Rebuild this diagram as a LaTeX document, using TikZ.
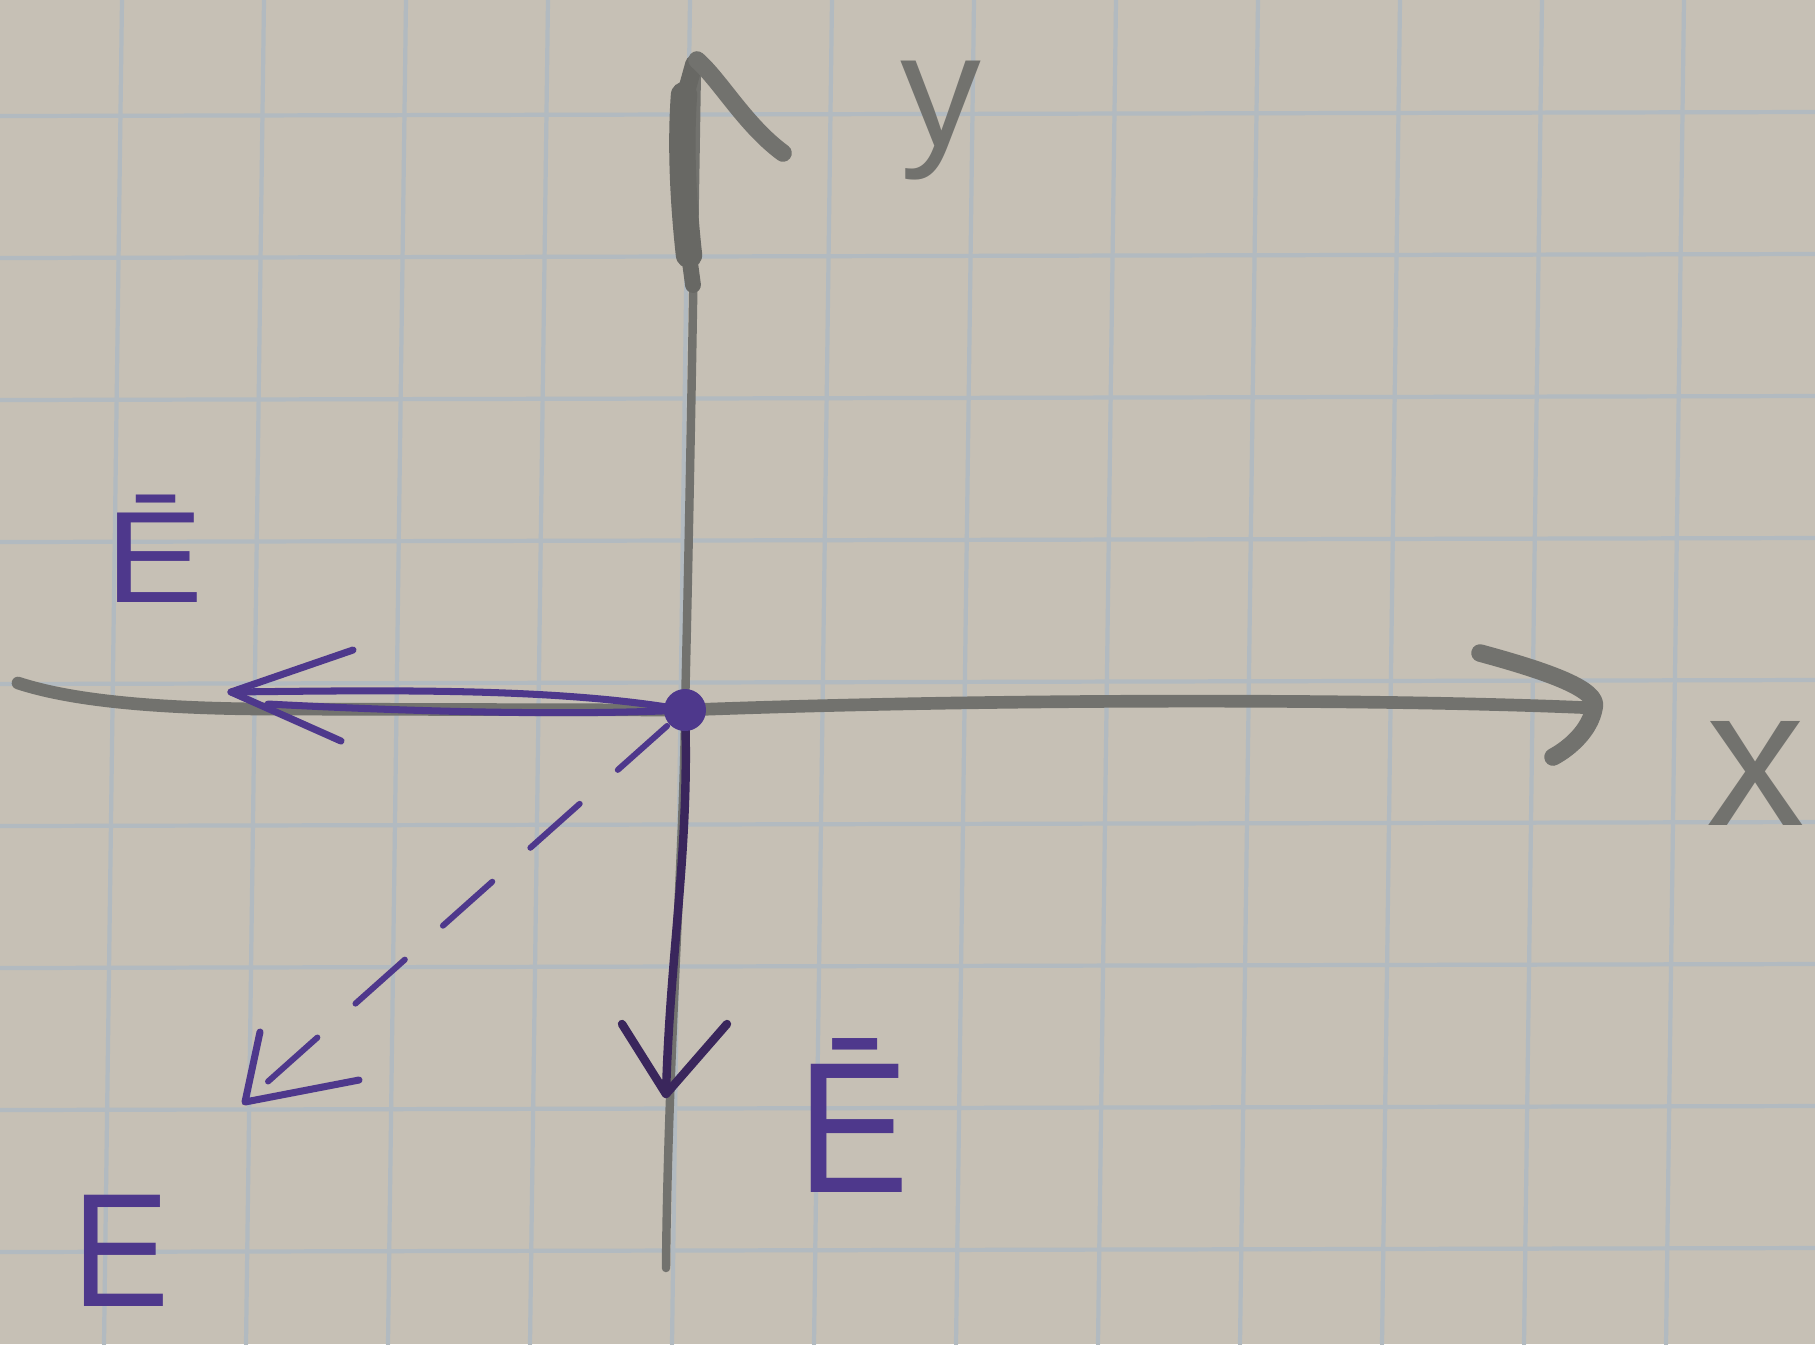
\documentclass[tikz,border=0pt]{standalone}
\usepackage{fontspec}
\setmainfont{Liberation Sans}
\usepackage{graphicx}
\begin{document}
\begin{tikzpicture}[x=0.01cm,y=-0.01cm,line cap=round,line join=round]
\definecolor{paper}{RGB}{198,192,181}
\definecolor{gridc}{RGB}{178,186,192}
\definecolor{pencil}{RGB}{114,114,110}
\definecolor{pencildark}{RGB}{104,104,100}
\definecolor{ink}{RGB}{78,56,140}
\definecolor{inkdark}{RGB}{58,38,92}
\tikzset{
  gridline/.style={draw=gridc,line width=1.2pt},
  pencilline/.style={draw=pencil,line width=3.6pt},
  pencilthin/.style={draw=pencil,line width=2.4pt},
  pencilhead/.style={draw=pencil,line width=5pt},
  inkline/.style={draw=ink,line width=2pt},
  inkdarkline/.style={draw=inkdark,line width=2.4pt},
  dashedink/.style={draw=ink,line width=1.7pt,dash pattern=on 18.8pt off 14.5pt,dash phase=26.5pt},
  lbl/.style={inner sep=0pt,anchor=base west},
  dotnode/.style={circle,fill=ink,inner sep=0pt,minimum size=0.42cm},
}
\fill[paper] (0,0) rectangle (1815,1344);
\useasboundingbox (0,0) rectangle (1815,1344);

% grid of the squared paper
\foreach \i in {0,...,11}
  \draw[gridline] ({122+142*\i},0) -- ({104+142*\i},1344);
\foreach \j in {0,...,8}
  \draw[gridline] (0,{116+142*\j}) -- (1815,{112+142*\j});

% key points
\coordinate (o) at (685,710);
\coordinate (ytop) at (697,60);
\coordinate (ybot) at (666,1268);
\coordinate (yhook) at (783,153);
\coordinate (xleft) at (18,683);
\coordinate (xright) at (1594,708);
\coordinate (xbarbU) at (1480,653);
\coordinate (xbarbL) at (1553,757);

% y axis (pencil)
\draw[pencilthin] (ybot) .. controls (668,1050) and (684,850) .. (o)
      .. controls (690,500) and (694,250) .. (ytop);
\draw[pencildark,line width=7.5pt] (684,95) .. controls (680,150) and (684,210) .. (689,255);
\draw[pencildark,line width=5pt] (694,64) -- (684,100);
\draw[pencildark,line width=4.5pt] (689,255) -- (693,285);
\draw[pencilhead] (ytop) .. controls (720,80) and (745,125) .. (yhook);

% x axis (pencil)
\draw[pencilline] (xleft) .. controls (70,700) and (150,708) .. (260,709)
      -- (o) .. controls (1000,698) and (1400,699) .. (xright);
\draw[pencilhead] (xbarbU) .. controls (1550,672) and (1600,690) .. (xright)
      .. controls (1590,730) and (1570,748) .. (xbarbL);

% left vector (ink, double stroke)
\coordinate (ltip) at (231,692);
\coordinate (ltip2) at (268,704);
\coordinate (lbarbU) at (353,650);
\coordinate (lbarbL) at (341,741);
\draw[inkline] (o) .. controls (560,688) and (400,690) .. (ltip);
\draw[inkline] (o) .. controls (560,716) and (400,711) .. (ltip2);
\draw[inkline] (lbarbU) -- (ltip) -- (lbarbL);

% down vector (dark ink)
\coordinate (dtip) at (666,1094);
\coordinate (dbarbL) at (622,1024);
\coordinate (dbarbR) at (727,1024);
\draw[inkdarkline] (o) .. controls (690,850) and (670,950) .. (dtip);
\draw[inkdarkline] (dbarbL) -- (dtip) -- (dbarbR);

% resultant (dashed ink)
\coordinate (rtip) at (245,1102);
\coordinate (rbarbU) at (260,1032);
\coordinate (rbarbR) at (359,1080);
\draw[dashedink] (o) -- (rtip);
\draw[inkline] (rbarbU) -- (rtip) -- (rbarbR);

% origin dot
\node[dotnode] (O) at (o) {};

% labels
\node[lbl,text=pencil,font=\fontsize{46}{46}\selectfont] (ylab) at (900,146) {y};
\node[lbl,text=pencil,font=\fontsize{56}{56}\selectfont] (xlab) at (1706,825) {x};
\node[lbl,text=ink,font=\fontsize{37}{37}\selectfont] (E1) at (105,602) {\scalebox{1.13}[1]{\=E}};
\node[lbl,text=ink,font=\fontsize{53}{53}\selectfont] (E2) at (797,1192) {\scalebox{0.9}[1]{\=E}};
\node[lbl,text=ink,font=\fontsize{46}{46}\selectfont] (E3) at (72,1306) {\scalebox{0.9}[1]{E}};
\end{tikzpicture}
\end{document}
